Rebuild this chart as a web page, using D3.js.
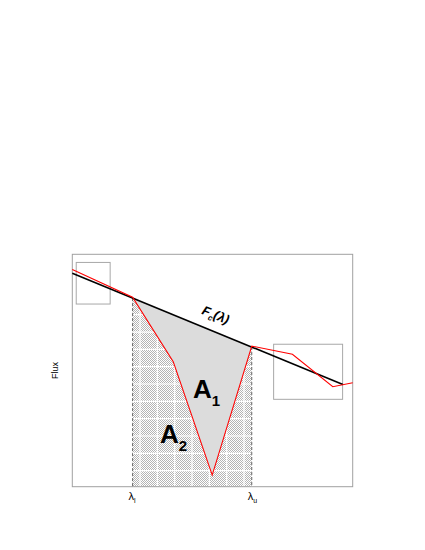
<!DOCTYPE html>
<html>
<head>
<meta charset="utf-8">
<script src="https://cdn.jsdelivr.net/npm/d3@7"></script>
<style>
  body { margin: 0; background: #fff; }
  svg { display: block; font-family: "Liberation Sans", Arial, sans-serif; }
</style>
</head>
<body>
<svg id="chart"></svg>
<script>
var width = 425, height = 550;

// observed spectrum (red)
var specX = [0, 2.15, 3.6, 4.99, 6.4, 7.85, 9.29, 10];
var specY = [0.935, 0.815, 0.538, 0.05, 0.605, 0.57, 0.43, 0.447];

// continuum F_c(lambda)
var contX = [0, 9.65];
var contY = [0.918, 0.44];

// line limits
var lamL = 2.15, lamU = 6.4;

// continuum windows (x0, x1, y0, y1)
var boxes = [
  [0.14, 1.35, 0.786, 0.965],
  [7.18, 9.64, 0.376, 0.613]
];

var margin = {left: 72.3, right: 72.3, top: 254.3, bottom: 63.3};

var svg = d3.select("#chart").attr("width", width).attr("height", height);

var x = d3.scaleLinear().domain([0, 10]).range([margin.left, width - margin.right]);
var y = d3.scaleLinear().domain([0, 1]).range([height - margin.bottom, margin.top]);

function cont(t) {
  return contY[0] + (t - contX[0]) * (contY[1] - contY[0]) / (contX[1] - contX[0]);
}

var spec = specX.map(function(d, i) { return [d, specY[i]]; });

// checker pattern for A2
var defs = svg.append("defs");
var pat = defs.append("pattern").attr("id", "checker")
  .attr("patternUnits", "userSpaceOnUse").attr("width", 2).attr("height", 2);
pat.append("rect").attr("width", 2).attr("height", 2).attr("fill", "#fff");
pat.append("rect").attr("width", 1).attr("height", 1).attr("fill", "#b4b4b4");
pat.append("rect").attr("x", 1).attr("y", 1).attr("width", 1).attr("height", 1).attr("fill", "#b4b4b4");

var inLine = spec.filter(function(d) { return d[0] >= lamL && d[0] <= lamU; });

defs.append("clipPath").attr("id", "bandClip")
  .append("rect")
  .attr("x", x(lamL)).attr("y", y(cont(lamL)))
  .attr("width", x(lamU) - x(lamL)).attr("height", y(0) - y(cont(lamL)));

// hatched region under continuum between limits
var bandArea = [[lamL, cont(lamL)], [lamU, cont(lamU)], [lamU, 0], [lamL, 0]];
svg.append("path")
  .attr("d", d3.line().x(function(d) { return x(d[0]); }).y(function(d) { return y(d[1]); })(bandArea) + "Z")
  .attr("fill", "url(#checker)");

// white grid over hatching
var step = 17.33;
var grid = svg.append("g").attr("clip-path", "url(#bandClip)")
  .attr("stroke", "#fff").attr("stroke-width", 1.2);
d3.range(122.7, x(lamU), step).forEach(function(gx) {
  grid.append("line").attr("x1", gx).attr("x2", gx).attr("y1", y(1)).attr("y2", y(0));
});
d3.range(488 - step * 14, y(0) + 1, step).forEach(function(gy) {
  grid.append("line").attr("x1", x(lamL)).attr("x2", x(lamU)).attr("y1", gy).attr("y2", gy);
});

// A1: between continuum and spectrum
var a1 = [[lamL, cont(lamL)], [lamU, cont(lamU)]].concat(inLine.slice().reverse());
svg.append("path")
  .attr("d", d3.line().x(function(d) { return x(d[0]); }).y(function(d) { return y(d[1]); })(a1) + "Z")
  .attr("fill", "#dcdcdc");

// frame
svg.append("rect")
  .attr("x", x(0)).attr("y", y(1))
  .attr("width", x(10) - x(0)).attr("height", y(0) - y(1))
  .attr("fill", "none").attr("stroke", "#a0a0a0").attr("stroke-width", 1);

// continuum windows
svg.selectAll("rect.win").data(boxes).enter().append("rect")
  .attr("class", "win")
  .attr("x", function(d) { return x(d[0]); })
  .attr("y", function(d) { return y(d[3]); })
  .attr("width", function(d) { return x(d[1]) - x(d[0]); })
  .attr("height", function(d) { return y(d[2]) - y(d[3]); })
  .attr("fill", "none").attr("stroke", "#a8a8a8").attr("stroke-width", 1);

// dashed limits
[lamL, lamU].forEach(function(l) {
  svg.append("line")
    .attr("x1", x(l)).attr("x2", x(l))
    .attr("y1", y(cont(l))).attr("y2", y(0))
    .attr("stroke", "#444").attr("stroke-width", 0.8)
    .attr("stroke-dasharray", "3,2");
});

// continuum line
svg.append("line")
  .attr("x1", x(contX[0])).attr("y1", y(contY[0]))
  .attr("x2", x(contX[1])).attr("y2", y(contY[1]))
  .attr("stroke", "#000").attr("stroke-width", 1.6);

// spectrum
svg.append("path")
  .datum(spec)
  .attr("d", d3.line().x(function(d) { return x(d[0]); }).y(function(d) { return y(d[1]); }))
  .attr("fill", "none").attr("stroke", "#ff0000").attr("stroke-width", 1.1);

// labels
var fcx = 214, fcy = 319;
var ang = Math.atan2(y(contY[1]) - y(contY[0]), x(contX[1]) - x(contX[0])) * 180 / Math.PI;
var fc = svg.append("text")
  .attr("transform", "translate(" + fcx + "," + fcy + ") rotate(" + ang + ")")
  .attr("text-anchor", "middle")
  .attr("font-size", 13).attr("font-weight", "bold").attr("font-style", "italic");
fc.append("tspan").text("F");
fc.append("tspan").attr("font-size", 8).attr("dy", 3).text("c");
fc.append("tspan").attr("dy", -3).text("(λ)");

var a1t = svg.append("text").attr("x", 193).attr("y", 398)
  .attr("font-size", 26).attr("font-weight", "bold");
a1t.append("tspan").text("A");
a1t.append("tspan").attr("font-size", 15).attr("dy", 8).text("1");

var a2t = svg.append("text").attr("x", 160).attr("y", 443)
  .attr("font-size", 26).attr("font-weight", "bold");
a2t.append("tspan").text("A");
a2t.append("tspan").attr("font-size", 15).attr("dy", 8).text("2");

var tickLabels = [["l", lamL], ["u", lamU]];
tickLabels.forEach(function(d) {
  var t = svg.append("text").attr("x", x(d[1]) - 4).attr("y", 500).attr("font-size", 11);
  t.append("tspan").text("λ");
  t.append("tspan").attr("font-size", 7).attr("dy", 3).text(d[0]);
});

svg.append("text")
  .attr("transform", "translate(58," + ((y(0) + y(1)) / 2) + ") rotate(-90)")
  .attr("text-anchor", "middle").attr("font-size", 9)
  .text("Flux");
</script>
</body>
</html>
